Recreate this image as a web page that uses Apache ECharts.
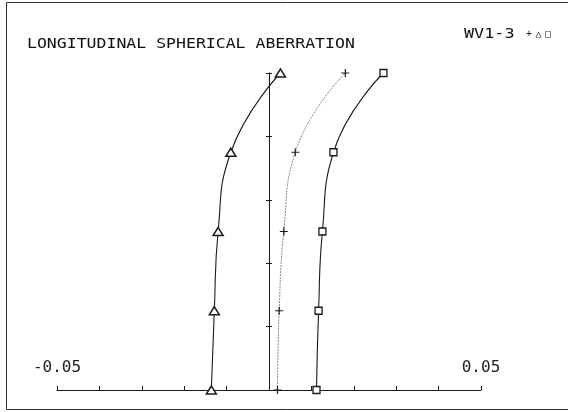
<!DOCTYPE html>
<html><head><meta charset="utf-8">
<script src="https://cdn.jsdelivr.net/npm/echarts@6/dist/echarts.min.js"></script>
<style>html,body{margin:0;padding:0;background:#fff}#c{width:568px;height:412px}</style>
</head><body><div id="c"></div>
<script>
const pupilHeights = [0, 0.25, 0.5, 0.75, 1.0];
const triangleSeries = [-0.0136, -0.0129, -0.0120, -0.0090, 0.0027];
const plusSeries = [0.0020, 0.0024, 0.0035, 0.0062, 0.0180];
const squareSeries = [0.0112, 0.0117, 0.0126, 0.0152, 0.0270];
const xTickLabels = ['-0.05', '0.05'];
const titleText = 'LONGITUDINAL SPHERICAL ABERRATION';
const legendText = 'WV1-3';
const legendSymbols = ['+', '\u25B3', '\u25A1'];

const xMin = -0.05, xMax = 0.05;
const gridLeft = 57, gridRight = 87, gridTop = 73, gridBottom = 22, W = 568;
const gridWidth = W - gridLeft - gridRight;
const zeroFromLeft = (0 - xMin) / (xMax - xMin) * gridWidth;
const zeroFromRight = gridWidth - zeroFromLeft;
function pairs(xs) { return xs.map((x, i) => [x, pupilHeights[i]]); }
const mono = '"DejaVu Sans Mono", monospace';
const ink = '#1a1a1a';
const chart = echarts.init(document.getElementById('c'), null, { renderer: 'canvas' });

const yAxisBase = {
  type: 'value', min: 0, max: 1, interval: 0.2,
  axisLabel: { show: false }, splitLine: { show: false },
  axisLine: { show: true, onZero: false, lineStyle: { color: ink, width: 1 } },
  axisTick: { show: true, inside: false, length: 3, lineStyle: { color: ink, width: 1 } }
};

const option = {
  animation: false,
  backgroundColor: '#fff',
  grid: { left: gridLeft, right: gridRight, top: gridTop, bottom: gridBottom },
  xAxis: {
    type: 'value', min: xMin, max: xMax, interval: 0.01,
    axisLine: { onZero: false, lineStyle: { color: ink, width: 1 } },
    axisTick: { inside: true, length: 4, lineStyle: { color: ink } },
    splitLine: { show: false },
    axisLabel: {
      inside: true, margin: 14, fontFamily: mono, fontSize: 16, color: '#222',
      showMinLabel: true, showMaxLabel: true,
      formatter: v => { const s = v.toFixed(2); return xTickLabels.includes(s) ? s : ''; }
    }
  },
  yAxis: [
    Object.assign({}, yAxisBase, { position: 'left', offset: -zeroFromLeft }),
    Object.assign({}, yAxisBase, { position: 'right', offset: -zeroFromRight })
  ],
  series: [
    {
      type: 'line', name: 'plus', data: pairs(plusSeries), smooth: 0.5, clip: false,
      symbol: 'path://M5 0V10M0 5H10', symbolSize: 8, showAllSymbol: true,
      lineStyle: { color: '#8a8a8a', width: 1, type: [2, 1] },
      itemStyle: { color: 'none', borderColor: ink, borderWidth: 1.2 }
    },
    {
      type: 'line', name: 'triangle', data: pairs(triangleSeries), smooth: 0.5, clip: false,
      symbol: 'triangle', symbolSize: [10, 8], showAllSymbol: true,
      lineStyle: { color: ink, width: 1.1 },
      itemStyle: { color: '#fff', borderColor: ink, borderWidth: 1.5 }
    },
    {
      type: 'line', name: 'square', data: pairs(squareSeries), smooth: 0.5, clip: false,
      symbol: 'rect', symbolSize: 7, showAllSymbol: true,
      lineStyle: { color: ink, width: 1.1 },
      itemStyle: { color: '#fff', borderColor: ink, borderWidth: 1.3 }
    }
  ],
  graphic: [
    { type: 'polyline', shape: { points: [[568, 2.5], [6.5, 2.5], [6.5, 409.5], [568, 409.5]] }, style: { stroke: '#333', lineWidth: 1, fill: null } },
    { type: 'text', x: 27, y: 44, scaleY: 0.82, style: { text: titleText, font: '16.5px ' + mono, fill: '#111', textAlign: 'left', textVerticalAlign: 'middle' } },
    { type: 'text', x: 464, y: 34, scaleX: 1.05, scaleY: 0.9, style: { text: legendText, font: '16px ' + mono, fill: '#111', textAlign: 'left', textVerticalAlign: 'middle' } }
  ].concat(legendSymbols.map((s, i) => ({
    type: 'text', x: 529 + i * 9.5, y: 34,
    style: { text: s, font: '10px ' + mono, fill: '#222', textAlign: 'center', textVerticalAlign: 'middle' }
  })))
};
chart.setOption(option);
</script>
</body></html>
